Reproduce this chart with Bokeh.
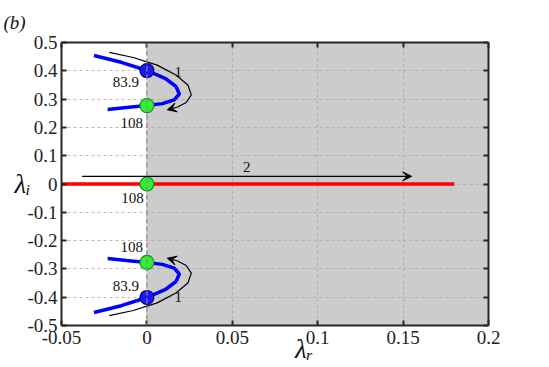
from bokeh.plotting import figure
from bokeh.models import (Range1d, LinearAxis, FixedTicker, Arrow, VeeHead,
                          Span, ColumnDataSource)
from bokeh.core.properties import value
from bokeh.embed import file_html
from bokeh.resources import INLINE

# ---- data ----
x_ticks = [-0.05, 0, 0.05, 0.1, 0.15, 0.2]
x_tick_labels = ["-0.05", "0", "0.05", "0.1", "0.15", "0.2"]
y_ticks = [-0.5, -0.4, -0.3, -0.2, -0.1, 0, 0.1, 0.2, 0.3, 0.4, 0.5]
y_tick_labels = ["-0.5", "-0.4", "-0.3", "-0.2", "-0.1", "0", "0.1", "0.2", "0.3", "0.4", "0.5"]

upper_x = [-0.031, -0.015, 0.0, 0.011, 0.017, 0.019, 0.016, 0.009, 0.0, -0.012, -0.023]
upper_y = [0.454, 0.430, 0.401, 0.372, 0.345, 0.318, 0.297, 0.284, 0.277, 0.270, 0.263]
lower_x = [-0.031, -0.015, 0.0, 0.011, 0.017, 0.019, 0.016, 0.009, 0.0, -0.012, -0.023]
lower_y = [-0.454, -0.430, -0.401, -0.372, -0.345, -0.318, -0.297, -0.284, -0.277, -0.270, -0.263]

real_x = [-0.05, 0.18]
real_y = [0.0, 0.0]

crit_blue_x = [0.0, 0.0]
crit_blue_y = [0.401, -0.401]
crit_green_x = [0.0, 0.0, 0.0]
crit_green_y = [0.277, 0.0, -0.277]

# path arrows
arr1_up_x = [-0.022, -0.008, 0.006, 0.017, 0.024, 0.026, 0.023, 0.018]
arr1_up_y = [0.465, 0.447, 0.420, 0.385, 0.350, 0.315, 0.288, 0.272]
arr1_up_head = [0.012, 0.262]
arr1_lo_x = [-0.022, -0.008, 0.006, 0.017, 0.024, 0.026, 0.023, 0.018]
arr1_lo_y = [-0.465, -0.447, -0.420, -0.385, -0.350, -0.315, -0.288, -0.272]
arr1_lo_head = [0.012, -0.262]
arr2_x = [-0.038, 0.155]
arr2_y = [0.027, 0.027]

labels_text = ["83.9", "108", "108", "108", "83.9", "1", "1", "2"]
labels_x = [-0.0123, -0.0088, -0.0085, -0.0088, -0.0123, 0.0184, 0.0184, 0.0585]
labels_y = [0.359, 0.2155, -0.051, -0.224, -0.362, 0.397, -0.401, 0.060]

SERIF = "Liberation Serif, Times New Roman, serif"

p = figure(width=549, height=367, output_backend="svg", toolbar_location=None,
           x_range=Range1d(-0.05, 0.2), y_range=Range1d(-0.5, 0.5),
           min_border_left=61, min_border_right=61, min_border_top=42, min_border_bottom=42,
           background_fill_color="white", border_fill_color="white")
p.outline_line_color = None

# panel tag as title
p.title.text = "(b)"
p.title.text_font = SERIF
p.title.text_font_style = "italic"
p.title.text_font_size = "19px"
p.title.text_color = "#111111"
p.title.offset = -58
p.title.standoff = 19

# shaded unstable region (x > 0)
shade = p.quad(left=[0.0], right=[0.2], bottom=[-0.5], top=[0.5],
               fill_color="#cccccc", line_color=None)
shade.level = "image"

for g in p.grid:
    g.grid_line_color = "#a8a8a8"
    g.grid_line_dash = "3 3"
    g.grid_line_width = 1
    g.grid_line_alpha = 0.8
p.xgrid.ticker = FixedTicker(ticks=x_ticks)
p.ygrid.ticker = FixedTicker(ticks=y_ticks)

p.add_layout(Span(location=0, dimension="height", line_color="#8a8a8a",
                  line_dash="5 3", line_width=1.2))

# axes
def style_axis(ax, ticks, labels, show_labels):
    ax.ticker = FixedTicker(ticks=ticks)
    ax.major_label_overrides = {t: l for t, l in zip(ticks, labels)}
    ax.axis_line_color = "#262626"
    ax.axis_line_width = 2
    ax.major_tick_line_color = "#262626"
    ax.major_tick_line_width = 2
    ax.major_tick_in = 5
    ax.major_tick_out = 0
    ax.minor_tick_line_color = None
    ax.major_label_text_font = SERIF
    ax.major_label_text_font_size = "19px"
    ax.major_label_text_color = "#222222"
    if not show_labels:
        ax.major_label_text_font_size = "0px"
        ax.major_label_text_alpha = 0
        ax.major_label_standoff = 0

xa = p.xaxis[0]
style_axis(xa, x_ticks, x_tick_labels, True)
xa.major_label_standoff = 5
xa.axis_label = "\u2003\u2003\u2006λᵣ"
xa.axis_label_text_font = SERIF
xa.axis_label_text_font_style = "italic"
xa.axis_label_text_font_size = "27px"
xa.axis_label_text_color = "#111111"
xa.axis_label_standoff = -13

ya = p.yaxis[0]
style_axis(ya, y_ticks, y_tick_labels, True)
ya.major_label_standoff = 4
ya.axis_label = "λᵢ"
ya.axis_label_orientation = "horizontal"
ya.axis_label_text_font = SERIF
ya.axis_label_text_font_style = "italic"
ya.axis_label_text_font_size = "27px"
ya.axis_label_text_color = "#111111"
ya.axis_label_standoff = -6

top_ax = LinearAxis()
style_axis(top_ax, x_ticks, x_tick_labels, False)
p.add_layout(top_ax, "above")
right_ax = LinearAxis()
style_axis(right_ax, y_ticks, y_tick_labels, False)
p.add_layout(right_ax, "right")

# curves
p.line(real_x, real_y, line_color="#ff0000", line_width=3.5)
p.line(upper_x, upper_y, line_color="#0000ff", line_width=3.5)
p.line(lower_x, lower_y, line_color="#0000ff", line_width=3.5)

# arrows
p.line(arr1_up_x, arr1_up_y, line_color="black", line_width=1.2)
p.add_layout(Arrow(end=VeeHead(size=9, fill_color="black", line_color="black", line_width=1),
                   x_start=arr1_up_x[-1], y_start=arr1_up_y[-1],
                   x_end=arr1_up_head[0], y_end=arr1_up_head[1],
                   line_color="black", line_width=1.2))
p.line(arr1_lo_x, arr1_lo_y, line_color="black", line_width=1.2)
p.add_layout(Arrow(end=VeeHead(size=9, fill_color="black", line_color="black", line_width=1),
                   x_start=arr1_lo_x[-1], y_start=arr1_lo_y[-1],
                   x_end=arr1_lo_head[0], y_end=arr1_lo_head[1],
                   line_color="black", line_width=1.2))
p.add_layout(Arrow(end=VeeHead(size=9, fill_color="black", line_color="black", line_width=1),
                   x_start=arr2_x[0], y_start=arr2_y[0], x_end=arr2_x[1], y_end=arr2_y[1],
                   line_color="black", line_width=1.2))

# critical points
p.scatter(crit_blue_x, crit_blue_y, size=14, fill_color="#1a1aee", line_color="#00007a", line_width=1.2)
p.scatter(crit_green_x, crit_green_y, size=14, fill_color="#33ee33", line_color="#159015", line_width=1.2)

# annotations
src = ColumnDataSource(dict(x=labels_x, y=labels_y, t=labels_text))
p.text(x="x", y="y", text="t", source=src, text_font=value(SERIF), text_font_size="15px",
       text_align="center", text_baseline="middle", text_color="#111111")

open("out.html", "w").write(file_html(p, INLINE))
